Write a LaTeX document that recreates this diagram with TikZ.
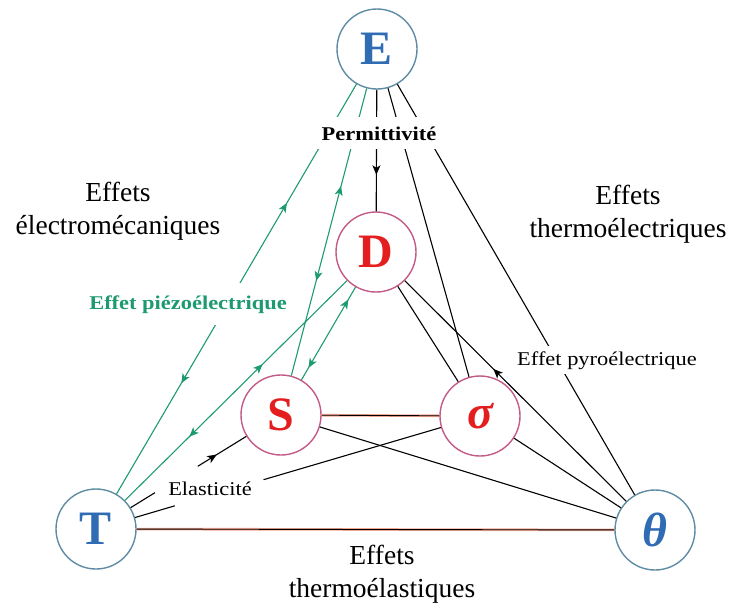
\documentclass[tikz,border=0pt]{standalone}
\usepackage{fontspec}
\setmainfont{Liberation Serif}
\newfontfamily\lblfont{Liberation Serif}[FakeStretch=1.15]
\usetikzlibrary{arrows.meta,decorations.markings,calc}
\definecolor{nblue}{RGB}{47,108,180}
\definecolor{nbluec}{RGB}{95,140,165}
\definecolor{nred}{RGB}{228,30,30}
\definecolor{nredc}{RGB}{195,90,135}
\definecolor{pgreen}{RGB}{30,155,110}
\definecolor{salmonline}{RGB}{240,165,145}
\begin{document}
\begin{tikzpicture}[x=1pt,y=-1pt,
  bnode/.style={circle,draw=nbluec,line width=1.4pt,fill=white,minimum size=80pt,inner sep=0pt,text=nblue,font=\fontsize{48}{48}\selectfont\bfseries},
  rnode/.style={circle,draw=nredc,line width=1.4pt,fill=white,minimum size=80pt,inner sep=0pt,text=nred,font=\fontsize{48}{48}\selectfont\bfseries},
  conn/.style={line width=1.1pt,draw=black},
  gconn/.style={line width=1.1pt,draw=pgreen},
  dconn/.style={line width=0.9pt,draw=black,preaction={draw=salmonline,line width=2.6pt}},
  fwd/.style={postaction={decorate,decoration={markings,mark=at position #1 with {\arrow{Stealth[length=9.5pt,width=8pt,inset=2.5pt]}}}}},
  bwd/.style={postaction={decorate,decoration={markings,mark=at position #1 with {\arrowreversed{Stealth[length=9.5pt,width=8pt,inset=2.5pt]}}}}},
  biglbl/.style={align=center,font=\fontsize{27.5}{33}\selectfont,inner sep=0pt,anchor=base},
  smlbl/.style={font=\lblfont\fontsize{19.5}{22}\selectfont,fill=white,anchor=base}
]
\useasboundingbox (0,0) rectangle (733,608);
% nodes
\node[bnode] (E) at (377,49) {E};
\node[rnode] (D) at (376,252) {D};
\node[rnode] (S) at (281,415) {S};
\node[rnode] (sig) at (480,416) {\itshape σ};
\node[bnode] (T) at (96,529) {T};
\node[bnode] (th) at (655,530) {\itshape θ};
% black connectors
\draw[conn,fwd=0.70] (E) -- (D);
\draw[conn] (E) -- (sig);
\draw[conn] (E) -- (th);
\draw[conn] (D) -- (sig);
\draw[conn,bwd=0.40] (D) -- (th);
\draw[conn] (S) -- (th);
\draw[conn] (sig) -- (th);
\path (S) -- (T) coordinate[pos=0.42] (st1) coordinate[pos=0.79] (st2);
\draw[conn,bwd=0.61] (S) -- (st1);
\draw[conn] (st2) -- (T);
\path (sig) -- (T) coordinate[pos=0.58] (gt1) coordinate[pos=0.87] (gt2);
\draw[conn] (sig) -- (gt1);
\draw[conn] (gt2) -- (T);
\draw[dconn] (S) -- (sig);
\draw[dconn] (T) -- (th);
% green connectors
\draw[gconn,bwd=0.29,fwd=0.73] (E) -- (T);
\draw[gconn,bwd=0.34,fwd=0.67] (E) -- (S);
\draw[gconn,fwd=0.62,bwd=0.29] (T) -- (D);
\draw[gconn,fwd=0.87,bwd=0.13] (S) -- (D);
% labels
\node[smlbl,font=\lblfont\bfseries\fontsize{19.5}{22}\selectfont,inner xsep=6pt,inner ysep=9pt] (perm) at (379,140) {Permittivité};
\node[smlbl,font=\lblfont\bfseries\fontsize{19.5}{22}\selectfont,text=pgreen,inner xsep=4pt,inner ysep=12pt] (piezo) at (188,309) {Effet piézoélectrique};
\node[smlbl,inner sep=5pt] (pyro) at (607,365) {Effet pyroélectrique};
\node[smlbl,inner sep=2pt] (elas) at (210,495) {Elasticité};
\node[biglbl] (elm) at (118,234) {Effets\\électromécaniques};
\node[biglbl] (tel) at (628,237) {Effets\\thermoélectriques};
\node[biglbl] (tea) at (382,597) {Effets\\thermoélastiques};
\end{tikzpicture}
\end{document}
